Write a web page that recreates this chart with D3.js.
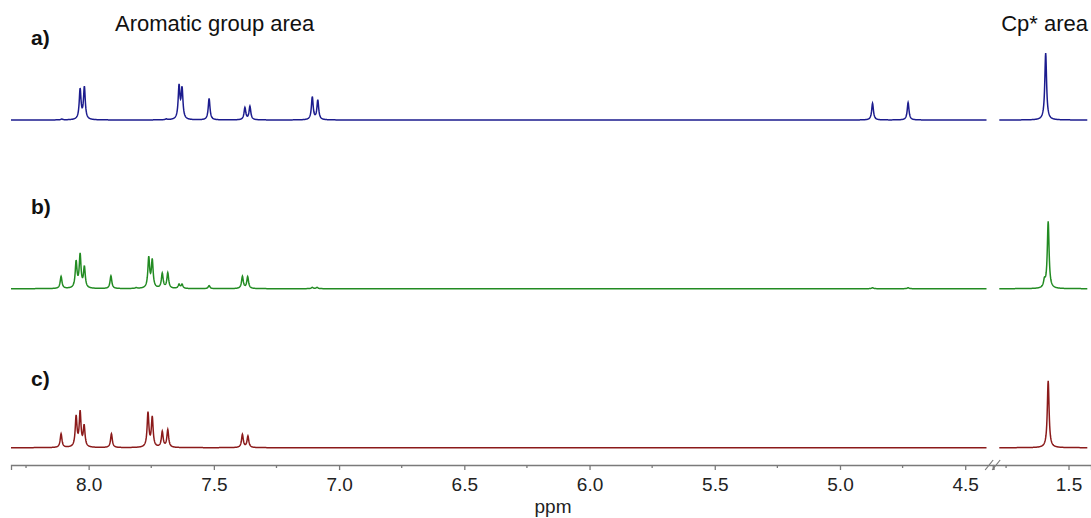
<!DOCTYPE html>
<html><head><meta charset="utf-8">
<script src="https://cdn.jsdelivr.net/npm/d3@7"></script>
<style>body{margin:0;background:#fff}svg{display:block}</style>
</head><body>
<svg id="chart" width="1091" height="518"></svg>
<script>
// ---- data ----
const panelLabels = ["a)", "b)", "c)"];
const regionLabels = ["Aromatic group area", "Cp* area"];
const axisTitle = "ppm";
const majorTicksLeft = [8.0, 7.5, 7.0, 6.5, 6.0, 5.5, 5.0, 4.5];
const minorTicksLeft = [8.25, 7.75, 7.25, 6.75, 6.25, 5.75, 5.25, 4.75];
const majorTicksRight = [1.5];
const minorTicksRight = [1.75];

// peak positions (ppm) and intensities (Cp* peak = 100)
const peaksA_ppm = [8.107, 8.034, 8.017, 7.690, 7.639, 7.627, 7.519, 7.376, 7.356, 7.107, 7.085, 4.870, 4.728, 1.592];
const peaksA_int = [1.2, 45, 48, 1.2, 49, 45, 32, 18, 20, 34, 29, 25, 26, 100];
const peaksB_ppm = [8.110, 8.050, 8.034, 8.017, 7.911, 7.810, 7.760, 7.746, 7.706, 7.684, 7.639, 7.627, 7.519, 7.386, 7.365, 7.107, 7.088, 4.870, 4.728, 1.597, 1.582];
const peaksB_int = [18, 39, 49, 31, 19, 1.2, 45, 41, 22, 23, 6, 6, 4.5, 18, 17.5, 2, 2, 1.5, 1.5, 10, 100];
const peaksC_ppm = [8.110, 8.050, 8.034, 8.018, 7.909, 7.763, 7.746, 7.706, 7.684, 7.386, 7.364, 1.582];
const peaksC_int = [20.5, 45, 51, 31, 20.5, 51, 44, 23, 26, 19.5, 17, 100];
const colors = ["#1c1c8e", "#228b22", "#8b1a1a"];

// ---- layout ----
const svg = d3.select("#chart");
const font = "'Liberation Sans', Arial, sans-serif";
const xL = d3.scaleLinear().domain([8.31, 4.415]).range([11, 986.5]);
const xR = d3.scaleLinear().domain([1.777, 1.426]).range([999.3, 1087.3]);
const baselines = [120, 288.7, 447.7];
const peakHeight = 67;
const hwhm = 0.0042;

function spectrum(ppms, ints, lo, hi) {
  const pts = [];
  const step = 0.001;
  for (let p = hi; p >= lo - 1e-9; p -= step) {
    let v = 0;
    for (let i = 0; i < ppms.length; i++) {
      const d = (p - ppms[i]) / hwhm;
      v += ints[i] / (1 + d * d);
    }
    pts.push([p, v]);
  }
  return pts;
}

const series = [[peaksA_ppm, peaksA_int], [peaksB_ppm, peaksB_int], [peaksC_ppm, peaksC_int]];
series.forEach((s, k) => {
  const y = d3.scaleLinear().domain([0, 100]).range([baselines[k], baselines[k] - peakHeight]);
  const left = spectrum(s[0], s[1], xL.domain()[1], xL.domain()[0]);
  const right = spectrum(s[0], s[1], xR.domain()[1], xR.domain()[0]);
  const lineL = d3.line().x(d => xL(d[0])).y(d => y(d[1]));
  const lineR = d3.line().x(d => xR(d[0])).y(d => y(d[1]));
  svg.append("path").attr("d", lineL(left)).attr("fill", "none").attr("stroke", colors[k]).attr("stroke-width", 1.5);
  svg.append("path").attr("d", lineR(right)).attr("fill", "none").attr("stroke", colors[k]).attr("stroke-width", 1.5);
});

// panel labels
const labelY = [45, 213.5, 385.5];
panelLabels.forEach((t, k) => {
  svg.append("text").attr("x", 31).attr("y", labelY[k]).text(t)
    .attr("font-family", font).attr("font-size", 21).attr("font-weight", "bold").attr("fill", "#111");
});
svg.append("text").attr("x", 115).attr("y", 31).text(regionLabels[0])
  .attr("font-family", font).attr("font-size", 22).attr("fill", "#111");
svg.append("text").attr("x", 1088).attr("y", 31).attr("text-anchor", "end").text(regionLabels[1])
  .attr("font-family", font).attr("font-size", 22).attr("fill", "#111");

// axes
const axisY = 465;
const axisColor = "#7a7a7a";
const gL = svg.append("g").attr("transform", `translate(0,${axisY})`);
const axL = d3.axisBottom(d3.scaleLinear().domain([8.31, 4.39]).range([xL(8.31), xL(4.39)]))
  .tickValues(majorTicksLeft).tickFormat(d3.format(".1f")).tickSizeOuter(0).tickSize(5).tickPadding(8);
gL.call(axL);
const gR = svg.append("g").attr("transform", `translate(0,${axisY})`);
const axR = d3.axisBottom(d3.scaleLinear().domain([1.80, 1.41]).range([xR(1.80), 1091]))
  .tickValues(majorTicksRight).tickFormat(d3.format(".1f")).tickSizeOuter(0).tickSize(5).tickPadding(8);
gR.call(axR);
[gL, gR].forEach(g => {
  g.select(".domain").attr("stroke", axisColor).attr("stroke-width", 1.3);
  g.selectAll(".tick line").attr("stroke", axisColor).attr("stroke-width", 1.3);
  g.selectAll(".tick text").attr("font-family", font).attr("font-size", 19).attr("fill", "#222");
});
minorTicksLeft.forEach(v => {
  svg.append("line").attr("x1", xL(v)).attr("x2", xL(v)).attr("y1", axisY).attr("y2", axisY + 3)
    .attr("stroke", axisColor).attr("stroke-width", 1.3);
});
minorTicksRight.forEach(v => {
  svg.append("line").attr("x1", xR(v)).attr("x2", xR(v)).attr("y1", axisY).attr("y2", axisY + 3)
    .attr("stroke", axisColor).attr("stroke-width", 1.3);
});
// axis break marks
const bx = (xL(4.39) + xR(1.80)) / 2;
[-4, 3].forEach(o => {
  svg.append("line").attr("x1", bx + o - 4).attr("y1", axisY + 5).attr("x2", bx + o + 4).attr("y2", axisY - 5)
    .attr("stroke", axisColor).attr("stroke-width", 1.2);
});
svg.append("text").attr("x", 553).attr("y", 513).attr("text-anchor", "middle").text(axisTitle)
  .attr("font-family", font).attr("font-size", 19).attr("fill", "#222");
</script>
</body></html>
